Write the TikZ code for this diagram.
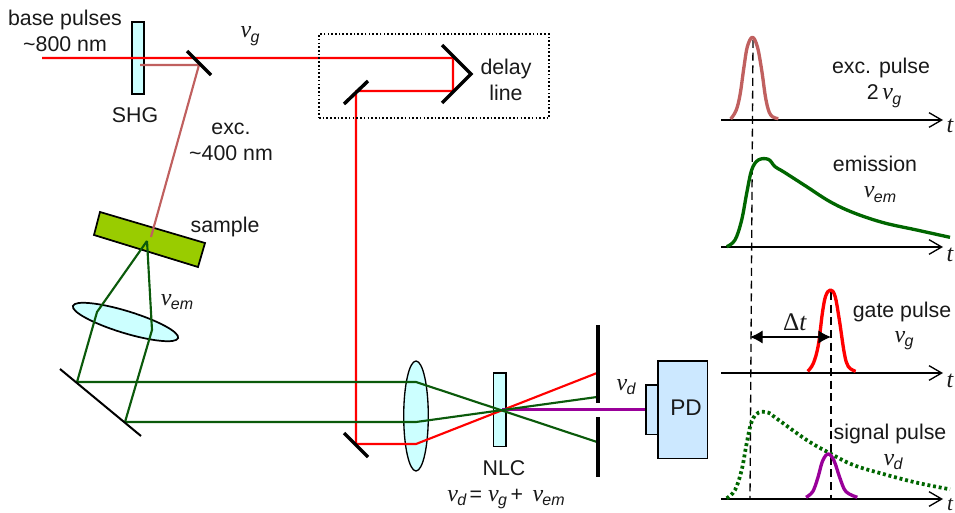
\documentclass[tikz,border=0pt]{standalone}
\usepackage{fontspec}
\setmainfont{Liberation Sans}
\newfontfamily\nufont{Liberation Serif}
\usetikzlibrary{arrows.meta}
\definecolor{beamred}{HTML}{FF0000}
\definecolor{excred}{HTML}{C0605F}
\definecolor{beamgreen}{HTML}{0B5A0B}
\definecolor{curvegreen}{HTML}{006600}
\definecolor{sigpurple}{HTML}{990099}
\definecolor{glass}{HTML}{CCFFFF}
\definecolor{pdblue}{HTML}{CCE8FF}
\definecolor{samplegreen}{HTML}{99CC00}
\newcommand{\nusym}[1]{{\nufont\itshape\fontsize{18pt}{18pt}\selectfont ν}\kern-0.5pt\raisebox{-3.5pt}{\fontsize{12pt}{12pt}\selectfont\itshape #1}}
\tikzset{
  lab/.style={anchor=base,inner sep=0pt,font=\fontsize{16pt}{18pt}\selectfont,text=black!90},
  beam/.style={line width=1.6pt,line join=round},
  redbeam/.style={beam,draw=beamred},
  excbeam/.style={beam,draw=excred},
  greenbeam/.style={beam,draw=beamgreen},
  mirror/.style={line width=2.6pt,draw=black},
  optic/.style={draw=black,line width=1pt,fill=glass},
  axisline/.style={draw=black,line width=1pt,-{Straight Barb[length=9.5pt,width=11pt,line width=1pt]}},
  curve/.style={line width=2.5pt,line join=round,smooth,tension=0.6},
  guide/.style={draw=black,line width=1pt,dash pattern=on 6pt off 3.5pt},
  tlab/.style={lab,font=\nufont\fontsize{18pt}{18pt}\selectfont\itshape},
  zoomA/.style={shift={(710,20)},x=0.25pt,y=-0.25pt},
  zoomB/.style={shift={(710,270)},x=0.25pt,y=-0.25pt}
}
\begin{document}
\begin{tikzpicture}[x=0.75pt,y=-0.75pt]
\useasboundingbox (0,0) rectangle (955,513);
% SHG
\node[optic,minimum width=9pt,minimum height=54pt,inner sep=0pt] (shg) at (138,58) {};
% beams upper
\coordinate (inb) at (42,58);
\coordinate (bs) at (199,65);
\coordinate (shgout) at (140,65);
\coordinate (dm1) at (453,58);
\coordinate (dm2) at (453,91);
\coordinate (dm3) at (356,91);
\coordinate (bot) at (356,444);
% sample
\draw[draw=black,line width=1.3pt,fill=samplegreen] (100,212) -- (205,243) -- (198,267) -- (94,235) -- cycle;
\coordinate (samp) at (151,237);
\coordinate (sampb) at (147,241);
% lens 1
\draw[draw=black,line width=1.3pt,fill=glass,rotate around={-17:(125.5,322)}] (125.5,322) ellipse [x radius=55,y radius=11];
% lens 2
\coordinate (lenstwo) at (416,416);
\draw[draw=black,line width=1pt,fill=glass] (lenstwo) ellipse [x radius=12.3,y radius=55];
% NLC
\node[optic,minimum width=9.5pt,minimum height=55pt,inner sep=0pt] (nlc) at (499.5,409.5) {};
% PD
\node[draw=black,line width=1pt,fill=pdblue,minimum width=37pt,minimum height=73pt,inner sep=0pt] (pd) at (682.5,409.5) {};
\node[draw=black,line width=1pt,fill=pdblue,minimum width=9pt,minimum height=37pt,inner sep=0pt] (pdw) at (652,409.5) {};
% rays
\draw[redbeam] (inb) -- (dm1) -- (dm2) -- (dm3) -- (bot) -- (416,444) -- (597,373);
\draw[excbeam] (shgout) -- (bs) -- (samp);
\coordinate (focus) at (502,409.5);
\draw[line width=1.6pt,draw=sigpurple] (focus) -- (pdw.west);
\draw[greenbeam] (sampb) -- (97,312) -- (77,382) -- (416,382) -- (597,442);
\draw[greenbeam] (sampb) -- (152,330) -- (125,422) -- (416,422) -- (597,397);
% mirrors
\draw[mirror] (187,51) -- (211,75);
\draw[mirror] (442,45) -- (471,74) -- (442,103);
\draw[mirror] (344,104) -- (368,81);
\draw[mirror] (344,433) -- (368,457);
\draw[line width=1.5pt,draw=black] (60,369) -- (141,436);
\draw[mirror] (598,325) -- (598,403);
\draw[mirror] (598,417) -- (598,477);
% delay box
\node[draw=black,line width=1pt,dash pattern=on 1.2pt off 1.6pt,minimum width=172.5pt,minimum height=63pt,inner sep=0pt] (delaybox) at (434,76) {};
% axes
\draw[axisline] (721,120) -- (943,120);
\draw[axisline] (721,247) -- (943,247);
\draw[axisline] (721,373) -- (943,373);
\draw[axisline] (721,499) -- (943,499);
% guides
\draw[guide] (753,40) -- (750,498);
\draw[guide] (831,292) -- (831,498);
% curves
\begin{scope}[zoomA]
\draw[curve,draw=excred] plot coordinates {(62,297)(78,272)(90,225)(102,140)(112,80)(127,52)(142,80)(155,150)(168,240)(182,285)(205,296)};
\draw[curve,draw=curvegreen] plot coordinates {(50,680)(75,660)(95,600)(110,520)(125,450)(145,420)(175,418)(195,440)(220,455)(290,500)(360,545)(430,578)(520,608)(620,630)(720,652)};
\end{scope}
\begin{scope}[zoomB]
\draw[curve,draw=beamred] plot coordinates {(293,304)(310,280)(325,225)(337,130)(347,78)(361,60)(375,78)(388,150)(403,250)(415,290)(437,304)};
\draw[curve,draw=curvegreen,dash pattern=on 2.2pt off 2.1pt,line width=2.8pt] plot coordinates {(50,685)(75,660)(95,600)(110,520)(125,455)(145,428)(175,428)(195,442)(290,510)(360,550)(430,585)(520,612)(620,638)(720,658)};
\draw[curve,draw=sigpurple] plot coordinates {(288,682)(308,665)(323,625)(338,572)(355,552)(372,572)(390,625)(408,665)(442,682)};
\end{scope}
% delta t
\draw[draw=black,line width=1pt,{Latex[length=9.5pt,width=10pt]}-{Latex[length=9.5pt,width=10pt]}] (750,337) -- (831,337);
% labels
\node[lab] (l1) at (65,26) {base pulses};
\node[lab] (l2) at (65,52) {\textasciitilde 800 nm};
\node[lab] (l3) at (135,123) {SHG};
\node[lab] (l4) at (231,135) {exc.};
\node[lab] (l5) at (231,161) {\textasciitilde 400 nm};
\node[lab] (l6) at (225,232) {sample};
\node[lab] (l7) at (506,75) {delay};
\node[lab] (l8) at (506,101) {line};
\node[lab] (l9) at (504,475) {NLC};
\node[lab,font=\fontsize{17pt}{18pt}\selectfont] (l10) at (686,415) {PD};
\node[lab] (l11) at (881,74) {exc. pulse};
\node[lab] (l12) at (884,100) {2\,\nusym{g}};
\node[lab] (l13) at (875,172) {emission};
\node[lab] (l14) at (880,198) {\nusym{em}};
\node[lab] (l15) at (902,317) {gate pulse};
\node[lab] (l16) at (904,342) {\nusym{g}};
\node[lab] (l17) at (890,439) {signal pulse};
\node[lab] (l18) at (893,465) {\nusym{d}};
\node[lab] (l19) at (250,38) {\nusym{g}};
\node[lab] (l20) at (177,305) {\nusym{em}};
\node[lab] (l21) at (626,390) {\nusym{d}};
\node[lab] (l22) at (506,501) {\nusym{d}\,= \nusym{g}\,+ \,\nusym{em}};
\node[lab,font=\nufont\fontsize{19pt}{19pt}\selectfont] (l23) at (795,330) {Δ\textit{t}};
\node[tlab] (t1) at (950,133) {t};
\node[tlab] (t2) at (950,261) {t};
\node[tlab] (t3) at (950,387) {t};
\node[tlab,font=\nufont\fontsize{16pt}{16pt}\selectfont\itshape] (t4) at (950,510) {t};
\end{tikzpicture}
\end{document}
